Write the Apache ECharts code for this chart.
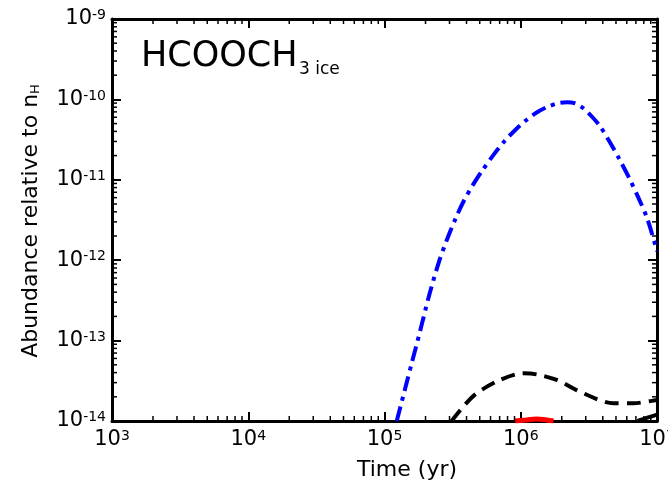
<!DOCTYPE html>
<html>
<head>
<meta charset="utf-8">
<script src="https://cdn.jsdelivr.net/npm/echarts@6/dist/echarts.min.js"></script>
<style>
  html, body { margin: 0; padding: 0; background: #fff; overflow: hidden; }
  #chart { width: 668px; height: 482px; }
</style>
</head>
<body>
<div id="chart"></div>
<script>
// Axis ranges (log scales)
const xRange = [1e3, 1e7];
const yRange = [1e-14, 1e-9];

// Minor tick positions: 2..9 within each decade
const minorMultipliers = [2, 3, 4, 5, 6, 7, 8, 9];
const xDecades = [1e3, 1e4, 1e5, 1e6];
const yDecades = [1e-14, 1e-13, 1e-12, 1e-11, 1e-10];

// Blue dash-dot model
const blueTime = [1.23e5, 1.41e5, 1.585e5, 1.82e5, 2.14e5, 2.51e5, 2.88e5, 3.31e5, 3.80e5, 4.47e5,
  5.25e5, 6.31e5, 7.59e5, 9.12e5, 1.096e6, 1.318e6, 1.585e6, 1.905e6, 2.188e6, 2.512e6,
  2.884e6, 3.311e6, 3.802e6, 4.467e6, 5.248e6, 6.166e6, 7.244e6, 8.511e6, 1e7];
const blueAbund = [1e-14, 2.45e-14, 5.25e-14, 1.29e-13, 3.80e-13, 9.55e-13, 1.82e-12, 3.24e-12, 5.37e-12, 8.71e-12,
  1.32e-11, 2.04e-11, 3.02e-11, 4.17e-11, 5.50e-11, 6.92e-11, 8.13e-11, 9.02e-11, 9.23e-11, 8.91e-11,
  7.76e-11, 6.17e-11, 4.68e-11, 3.02e-11, 1.86e-11, 1.10e-11, 6.17e-12, 3.24e-12, 1.29e-12];

// Black dashed model
const dashTime = [3.11e5, 3.78e5, 4.74e5, 7.05e5, 1.045e6, 1.31e6, 1.837e6, 2.88e6, 4.79e6, 6.70e6, 9.12e6, 1e7];
const dashAbund = [1e-14, 1.51e-14, 2.21e-14, 3.24e-14, 3.92e-14, 3.80e-14, 3.24e-14, 2.21e-14, 1.66e-14, 1.66e-14, 1.78e-14, 1.82e-14];

// Red solid model
const redTime = [9.1e5, 1.1e6, 1.31e6, 1.55e6, 1.74e6];
const redAbund = [1e-14, 1.03e-14, 1.06e-14, 1.03e-14, 1e-14];

// Black solid model
const blackTime = [7.2e6, 8.5e6, 1e7];
const blackAbund = [1e-14, 1.1e-14, 1.2e-14];

const zip = (xs, ys) => xs.map((x, i) => [x, ys[i]]);

const minorData = [];
xDecades.forEach(d => minorMultipliers.forEach(m => minorData.push([d * m, yRange[0], 0])));
yDecades.forEach(d => minorMultipliers.forEach(m => minorData.push([xRange[0], d * m, 1])));

const FONT = 'DejaVu Sans';
const tickRich = {
  b: { fontFamily: FONT, fontSize: 21, lineHeight: 21, color: '#000' },
  s: { fontFamily: FONT, fontSize: 14, lineHeight: 14, color: '#000', verticalAlign: 'top' }
};
const powLabel = v => '{b|10}{s|' + Math.round(Math.log10(v)) + '}';

const axisLine = { onZero: false, lineStyle: { color: '#000', width: 3 } };
const majorTick = { inside: true, length: 9, lineStyle: { color: '#000', width: 2 } };

const chart = echarts.init(document.getElementById('chart'), null, { renderer: 'canvas' });
chart.setOption({
  animation: false,
  backgroundColor: '#fff',
  grid: { left: 112, right: 11, top: 19, bottom: 61, containLabel: false, outerBoundsMode: 'none' },
  xAxis: [
    {
      type: 'log', logBase: 10, min: xRange[0], max: xRange[1], position: 'bottom',
      axisLine, axisTick: majorTick, splitLine: { show: false },
      axisLabel: { formatter: powLabel, rich: tickRich, margin: 8, hideOverlap: false }
    },
    {
      type: 'log', logBase: 10, min: xRange[0], max: xRange[1], position: 'top',
      axisLine, axisTick: majorTick, splitLine: { show: false }, axisLabel: { show: false }
    }
  ],
  yAxis: [
    {
      type: 'log', logBase: 10, min: yRange[0], max: yRange[1], position: 'left',
      axisLine, axisTick: majorTick, splitLine: { show: false },
      axisLabel: { formatter: powLabel, rich: tickRich, margin: 6 }
    },
    {
      type: 'log', logBase: 10, min: yRange[0], max: yRange[1], position: 'right',
      axisLine, axisTick: majorTick, splitLine: { show: false }, axisLabel: { show: false }
    }
  ],
  graphic: [
    {
      type: 'text', x: 141, y: 57,
      style: { text: 'HCOOCH', font: '35px "DejaVu Sans"', fill: '#000', align: 'left', verticalAlign: 'middle' }
    },
    {
      type: 'text', x: 299, y: 70,
      style: { text: '3 ice', font: '17px "DejaVu Sans"', fill: '#000', align: 'left', verticalAlign: 'middle' }
    },
    {
      type: 'text', x: 31, y: 221, rotation: Math.PI / 2,
      style: {
        text: '{a|Abundance relative to n}{h|H}', align: 'center', verticalAlign: 'middle',
        rich: {
          a: { fontFamily: FONT, fontSize: 22, lineHeight: 22, color: '#000' },
          h: { fontFamily: FONT, fontSize: 13, lineHeight: 5, color: '#000', verticalAlign: 'bottom' }
        }
      }
    },
    {
      type: 'text', x: 407, y: 470,
      style: { text: 'Time (yr)', font: '22px "DejaVu Sans"', fill: '#000', align: 'center', verticalAlign: 'middle' }
    }
  ],
  series: [
    {
      type: 'custom', clip: false, silent: true, z: 5,
      data: minorData,
      renderItem: function (params, api) {
        const kind = api.value(2);
        const len = 5;
        const style = { stroke: '#000', lineWidth: 1.5 };
        if (kind === 0) {
          const b = api.coord([api.value(0), yRange[0]]);
          const t = api.coord([api.value(0), yRange[1]]);
          return { type: 'group', children: [
            { type: 'line', shape: { x1: b[0], y1: b[1], x2: b[0], y2: b[1] - len }, style },
            { type: 'line', shape: { x1: t[0], y1: t[1], x2: t[0], y2: t[1] + len }, style }
          ] };
        }
        const l = api.coord([xRange[0], api.value(1)]);
        const r = api.coord([xRange[1], api.value(1)]);
        return { type: 'group', children: [
          { type: 'line', shape: { x1: l[0], y1: l[1], x2: l[0] + len, y2: l[1] }, style },
          { type: 'line', shape: { x1: r[0], y1: r[1], x2: r[0] - len, y2: r[1] }, style }
        ] };
      }
    },
    {
      type: 'line', data: zip(blueTime, blueAbund), smooth: 0.3, symbol: 'none',
      lineStyle: { color: '#0000ff', width: 4, type: [15, 6, 4, 6], cap: 'butt' }
    },
    {
      type: 'line', data: zip(dashTime, dashAbund), smooth: 0.3, symbol: 'none',
      lineStyle: { color: '#000', width: 4, type: [14, 8], cap: 'butt' }
    },
    {
      type: 'line', data: zip(redTime, redAbund), smooth: 0.4, symbol: 'none',
      lineStyle: { color: '#ff0000', width: 5 }
    },
    {
      type: 'line', data: zip(blackTime, blackAbund), smooth: 0.4, symbol: 'none',
      lineStyle: { color: '#000', width: 4 }
    }
  ]
});
</script>
</body>
</html>
